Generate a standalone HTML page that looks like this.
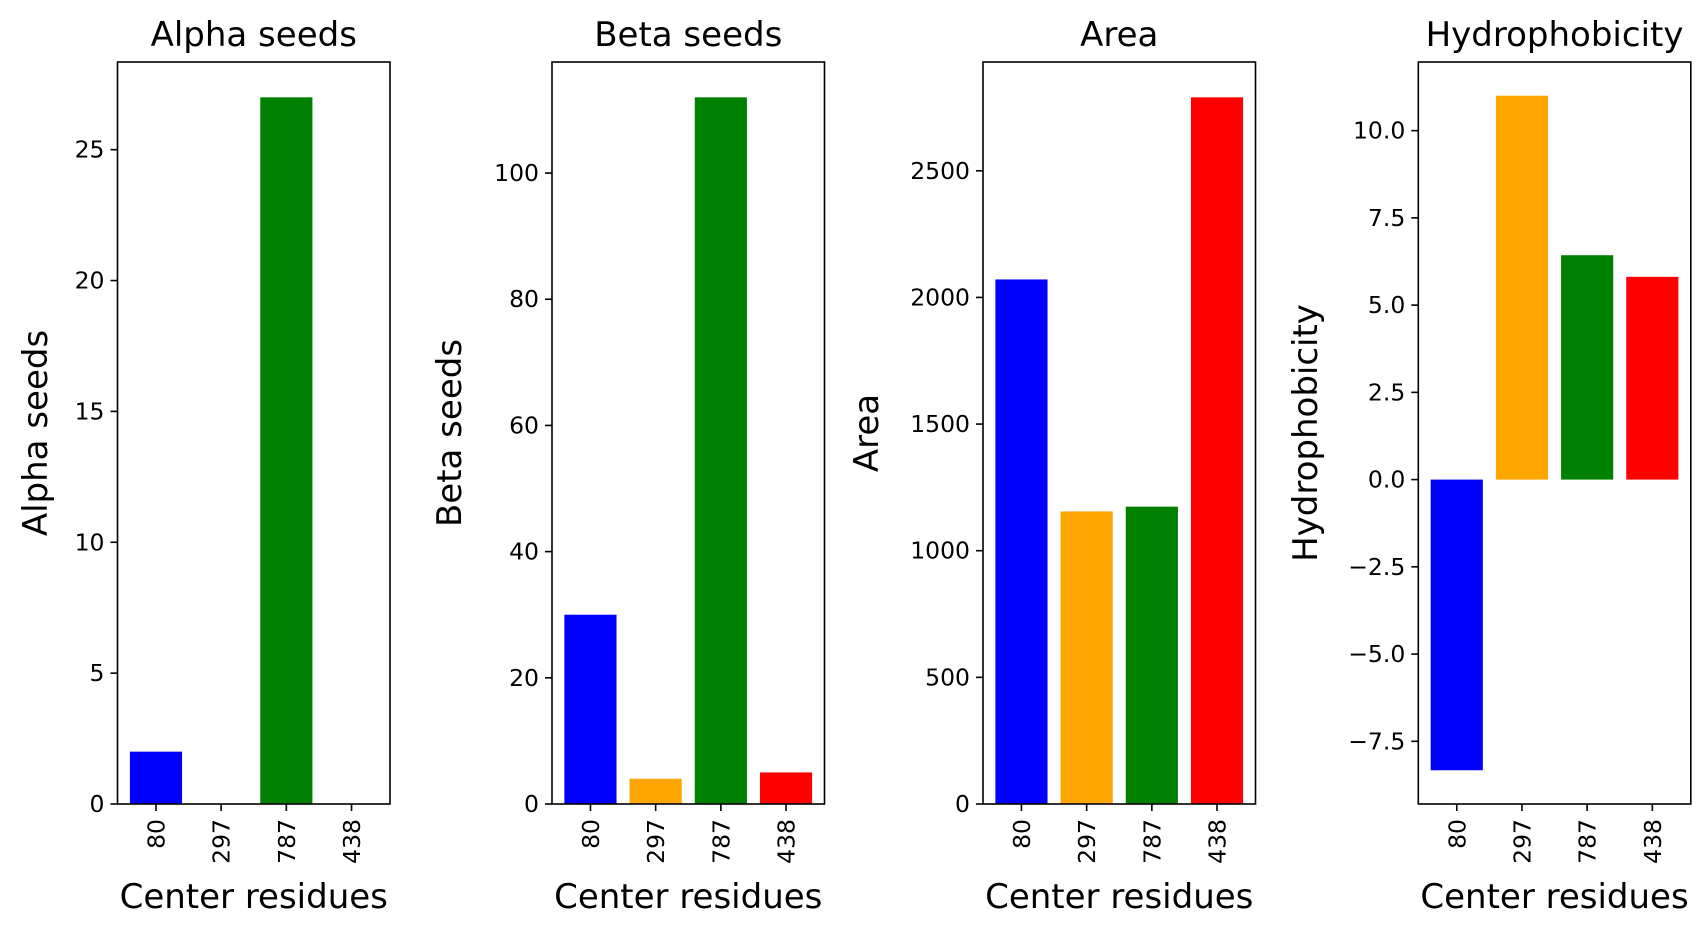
<!DOCTYPE html>
<html><head><meta charset="utf-8"><style>
html,body{margin:0;padding:0;background:#fff}
svg{display:block}
text{font-family:"DejaVu Sans","Liberation Sans",sans-serif;fill:#000}
</style></head><body>
<svg id="chart" width="1706" height="937" viewBox="0 0 1706 937" xmlns="http://www.w3.org/2000/svg"></svg>
<script>
const categories = ["80", "297", "787", "438"];
const colors = ["blue", "orange", "green", "red"];
const panelTitles = ["Alpha seeds", "Beta seeds", "Area", "Hydrophobicity"];
const alphaValues = [2, 0, 27, 0];
const betaValues = [30, 4, 112, 5];
const areaValues = [2071, 1155, 1174, 2790];
const hydroValues = [-8.33, 11.0, 6.43, 5.81];
const alphaTicks = [0, 5, 10, 15, 20, 25];
const betaTicks = [0, 20, 40, 60, 80, 100];
const areaTicks = [0, 500, 1000, 1500, 2000, 2500];
const hydroTicks = [-7.5, -5.0, -2.5, 0.0, 2.5, 5.0, 7.5, 10.0];
const hydroTickLabels = ["\u22127.5", "\u22125.0", "\u22122.5", "0.0", "2.5", "5.0", "7.5", "10.0"];

const svg = document.getElementById('chart');
const NS = 'http://www.w3.org/2000/svg';
function mk(tag, attrs, parent) {
  const e = document.createElementNS(NS, tag);
  for (const k in attrs) e.setAttribute(k, attrs[k]);
  (parent || svg).appendChild(e);
  return e;
}
const panels = [
  {vals: alphaValues, ticks: alphaTicks, labels: alphaTicks.map(String), slug: 'alpha'},
  {vals: betaValues, ticks: betaTicks, labels: betaTicks.map(String), slug: 'beta'},
  {vals: areaValues, ticks: areaTicks, labels: areaTicks.map(String), slug: 'area'},
  {vals: hydroValues, ticks: hydroTicks, labels: hydroTickLabels, slug: 'hydrophobicity'}
];
const lefts = [117.5, 552, 983, 1418.3];
const W = 272.5, TOP = 62, BOT = 804;
panels.forEach((p, i) => {
  const g = mk('g', {});
  
  
  const L = lefts[i];
  let mn = Math.min(0, ...p.vals), mx = Math.max(0, ...p.vals);
  const r = mx - mn;
  if (mn < 0) mn -= 0.05 * r;
  mx += 0.05 * r;
  const y = v => BOT - (v - mn) / (mx - mn) * (BOT - TOP);
  const xmin = -0.59, xmax = 3.59;
  const x = c => L + (c - xmin) / (xmax - xmin) * W;
  p.vals.forEach((v, j) => {
    const y0 = y(0), y1 = y(v);
    const b = mk('rect', {x: x(j - 0.4), y: Math.min(y0, y1), width: x(j + 0.4) - x(j - 0.4), height: Math.abs(y1 - y0), fill: colors[j]}, g);
    
    
  });
  const fr = mk('rect', {x: L, y: TOP, width: W, height: BOT - TOP, fill: 'none', stroke: '#000', 'stroke-width': 1.6}, g);
  
  
  p.ticks.forEach((t, k) => {
    const ty = y(t);
    mk('line', {x1: L - 7, x2: L, y1: ty, y2: ty, stroke: '#000', 'stroke-width': 1.6}, g);
    const tl = mk('text', {x: L - 13, y: ty + 8, 'text-anchor': 'end', 'font-size': 23.5}, g);
    tl.textContent = p.labels[k];
    
    
  });
  categories.forEach((c, j) => {
    const tx = x(j);
    mk('line', {x1: tx, x2: tx, y1: BOT, y2: BOT + 7, stroke: '#000', 'stroke-width': 1.6}, g);
    const tl = mk('text', {x: 0, y: 0, 'text-anchor': 'end', 'font-size': 23.5, transform: 'translate(' + (tx + 8.5) + ',' + (BOT + 15) + ') rotate(-90)'}, g);
    tl.textContent = c;
    
    
  });
  const ti = mk('text', {x: L + W / 2, y: 46, 'text-anchor': 'middle', 'font-size': 34}, g);
  ti.textContent = panelTitles[i];
  
  
  const xl = mk('text', {x: L + W / 2, y: 908, 'text-anchor': 'middle', 'font-size': 34}, g);
  xl.textContent = 'Center residues';
  
  
  const ylx = [47, 461, 878, 1317][i];
  const yl = mk('text', {x: 0, y: 0, 'text-anchor': 'middle', 'font-size': 34, transform: 'translate(' + ylx + ',' + ((TOP + BOT) / 2) + ') rotate(-90)'}, g);
  yl.textContent = panelTitles[i];
  
  
});
</script>
</body></html>
